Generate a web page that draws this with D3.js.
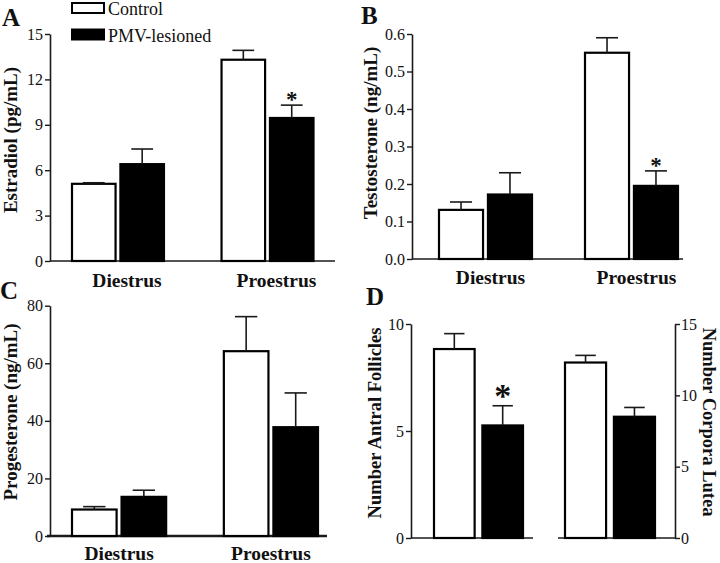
<!DOCTYPE html>
<html><head><meta charset="utf-8">
<script src="https://cdn.jsdelivr.net/npm/d3@7"></script>
<style>
body{margin:0;background:#fff}
svg{display:block}
text{font-family:"Liberation Serif","Times New Roman",serif;fill:#111}
</style>
</head><body>
<svg id="chart" width="720" height="563" font-family="Liberation Serif, serif"></svg>
<script>
// ---------- data ----------
const categories = ["Diestrus", "Proestrus"];
const groups = ["Control", "PMV-lesioned"];

const estradiolControl = [5.1, 13.3];
const estradiolControlErr = [0.07, 0.62];
const estradiolPMV = [6.4, 9.45];
const estradiolPMVErr = [1.0, 0.85];
const estradiolTicks = [0, 3, 6, 9, 12, 15];

const testosteroneControl = [0.131, 0.55];
const testosteroneControlErr = [0.021, 0.04];
const testosteronePMV = [0.172, 0.195];
const testosteronePMVErr = [0.058, 0.04];
const testosteroneTicks = [0.0, 0.1, 0.2, 0.3, 0.4, 0.5, 0.6];

const progesteroneControl = [9.2, 64.2];
const progesteroneControlErr = [1.0, 12.0];
const progesteronePMV = [13.6, 37.8];
const progesteronePMVErr = [2.3, 11.9];
const progesteroneTicks = [0, 20, 40, 60, 80];

const follicles = [8.83, 5.26];        // Control, PMV-lesioned
const folliclesErr = [0.72, 0.92];
const follicleTicks = [0, 5, 10];
const corporaLutea = [12.3, 8.5];      // Control, PMV-lesioned
const corporaLuteaErr = [0.5, 0.65];
const lutealTicks = [0, 5, 10, 15];

const fills = ["#ffffff", "#000000"];

// ---------- drawing ----------
const svg = d3.select("#chart");
const INK = "#1a1a1a";
const SERIF = '"Liberation Serif","Times New Roman",serif';

function styleAxis(a) {
  a.select(".domain").attr("stroke", INK).attr("stroke-width", 1.6);
  a.selectAll(".tick line").attr("stroke", INK).attr("stroke-width", 1.4);
  a.selectAll(".tick text").style("font-family", SERIF).style("font-size", "16px").attr("fill", "#111");
}
function yAxisLeft(g, x, y, ticks, fmt) {
  const ax = d3.axisLeft(y).tickValues(ticks).tickFormat(fmt).tickSize(5).tickSizeOuter(0).tickPadding(2);
  const a = g.append("g").attr("transform", `translate(${x},0)`).call(ax);
  styleAxis(a);
  return a;
}
function yAxisRight(g, x, y, ticks, fmt) {
  const ax = d3.axisRight(y).tickValues(ticks).tickFormat(fmt).tickSize(5).tickSizeOuter(0).tickPadding(1);
  const a = g.append("g").attr("transform", `translate(${x},0)`).call(ax);
  styleAxis(a);
  return a;
}

function drawBar(g, x, w, y, val, err, fill) {
  const y0 = y.range()[0];
  g.append("rect").attr("x", x).attr("y", y(val)).attr("width", w).attr("height", y0 - y(val))
    .attr("fill", fill).attr("stroke", "#000").attr("stroke-width", 2.2);
  const cx = x + w / 2, cw = w * 0.25;
  g.append("line").attr("x1", cx).attr("x2", cx).attr("y1", y(val)).attr("y2", y(val + err))
    .attr("stroke", INK).attr("stroke-width", 1.6);
  g.append("line").attr("x1", cx - cw).attr("x2", cx + cw).attr("y1", y(val + err)).attr("y2", y(val + err))
    .attr("stroke", INK).attr("stroke-width", 1.6);
  return {cx, top: y(val + err)};
}

function groupedPanel(o) {
  const g = svg.append("g");
  const y = d3.scaleLinear().domain([o.ticks[0], o.ticks[o.ticks.length - 1]]).range([o.y0, o.yTop]);
  const xg = d3.scaleBand().domain(categories).range(o.barRange).paddingInner(o.padInner).paddingOuter(0);
  const xs = d3.scaleBand().domain(groups).range([0, xg.bandwidth()]).paddingInner(0.1).paddingOuter(0);
  g.append("line").attr("x1", o.baseStart).attr("x2", o.baseEnd).attr("y1", o.y0).attr("y2", o.y0)
    .attr("stroke", INK).attr("stroke-width", o.baseWidth || 1.6);
  const tops = {};
  categories.forEach((c, i) => {
    groups.forEach((s, j) => {
      tops[c + "|" + s] = drawBar(g, xg(c) + xs(s), xs.bandwidth(), y, o.series[j].vals[i], o.series[j].errs[i], fills[j]);
    });
    g.append("text").attr("x", xg(c) + xg.bandwidth() / 2 + o.labelDx).attr("y", o.labelY)
      .attr("text-anchor", "middle").style("font-size", "19.5px").style("font-weight", "bold").text(c);
  });
  yAxisLeft(g, o.axisX, y, o.ticks, o.fmt);
  g.append("text").attr("transform", `translate(${o.titleX},${o.titleY}) rotate(-90)`)
    .attr("text-anchor", "middle").style("font-size", "19px").style("font-weight", "bold").text(o.title);
  (o.stars || []).forEach(st => {
    const t = tops[st.cat + "|" + st.group];
    g.append("text").attr("x", t.cx).attr("y", t.top - st.dy).attr("text-anchor", "middle")
      .style("font-size", st.size + "px").style("font-weight", "bold").text("*");
  });
  return g;
}

// Panel A
groupedPanel({
  axisX: 50, y0: 261, yTop: 34, ticks: estradiolTicks, fmt: d3.format("d"),
  barRange: [72, 313.5], padInner: 0.385, baseStart: 50, baseEnd: 335,
  series: [{vals: estradiolControl, errs: estradiolControlErr}, {vals: estradiolPMV, errs: estradiolPMVErr}],
  labelDx: 9, labelY: 287, title: "Estradiol (pg/mL)", titleX: 17, titleY: 140,
  stars: [{cat: "Proestrus", group: "PMV-lesioned", size: 23, dy: -2}]
});
// Panel B
groupedPanel({
  axisX: 412, y0: 259, yTop: 34, ticks: testosteroneTicks, fmt: d3.format(".1f"),
  barRange: [439, 678], padInner: 0.363, baseStart: 412, baseEnd: 683,
  series: [{vals: testosteroneControl, errs: testosteroneControlErr}, {vals: testosteronePMV, errs: testosteronePMVErr}],
  labelDx: 5, labelY: 284, title: "Testosterone (ng/mL)", titleX: 377, titleY: 133,
  stars: [{cat: "Proestrus", group: "PMV-lesioned", size: 23, dy: -2}]
});
// Panel C
groupedPanel({
  axisX: 50, y0: 536, yTop: 305.7, ticks: progesteroneTicks, fmt: d3.format("d"),
  barRange: [72, 318], padInner: 0.38, baseStart: 47, baseEnd: 327, baseWidth: 2.6,
  series: [{vals: progesteroneControl, errs: progesteroneControlErr}, {vals: progesteronePMV, errs: progesteronePMVErr}],
  labelDx: 0, labelY: 560, title: "Progesterone (ng/mL)", titleX: 17, titleY: 412
});

// Panel D
(function () {
  const g = svg.append("g");
  const yl = d3.scaleLinear().domain([0, 10]).range([538, 324]);
  const yr = d3.scaleLinear().domain([0, 15]).range([538, 324]);
  const xl = d3.scaleBand().domain(groups).range([434, 523]).paddingInner(0.16);
  const xr = d3.scaleBand().domain(groups).range([565, 655]).paddingInner(0.16);
  g.append("line").attr("x1", 411).attr("x2", 533).attr("y1", 538).attr("y2", 538).attr("stroke", INK).attr("stroke-width", 1.6);
  g.append("line").attr("x1", 558).attr("x2", 675).attr("y1", 538).attr("y2", 538).attr("stroke", INK).attr("stroke-width", 1.6);
  let starTop;
  groups.forEach((s, j) => {
    const r = drawBar(g, xl(s), xl.bandwidth(), yl, follicles[j], folliclesErr[j], fills[j]);
    if (j === 1) starTop = r;
    drawBar(g, xr(s), xr.bandwidth(), yr, corporaLutea[j], corporaLuteaErr[j], fills[j]);
  });
  yAxisLeft(g, 411, yl, follicleTicks, d3.format("d"));
  yAxisRight(g, 675, yr, lutealTicks, d3.format("d"));
  g.append("text").attr("x", starTop.cx).attr("y", starTop.top + 1).attr("text-anchor", "middle")
    .style("font-size", "34px").style("font-weight", "bold").text("*");
  g.append("text").attr("transform", "translate(381,423) rotate(-90)").attr("text-anchor", "middle")
    .style("font-size", "18.5px").style("font-weight", "bold").text("Number Antral Follicles");
  g.append("text").attr("transform", "translate(703,422) rotate(90)").attr("text-anchor", "middle")
    .style("font-size", "18.5px").style("font-weight", "bold").text("Number Corpora Lutea");
})();

// Panel letters
const panelLetters = [["A", 2, 26], ["B", 361, 24], ["C", 0, 299], ["D", 366, 305]];
panelLetters.forEach(([t, x, y]) => svg.append("text").attr("x", x).attr("y", y)
  .style("font-size", "25px").style("font-weight", "bold").text(t));

// Legend
const leg = svg.append("g");
groups.forEach((s, j) => {
  leg.append("rect").attr("x", 72).attr("y", 3 + j * 26.5).attr("width", 32).attr("height", 10)
    .attr("fill", fills[j]).attr("stroke", "#000").attr("stroke-width", 2);
  leg.append("text").attr("x", 108).attr("y", 15 + j * 26.5).style("font-size", "18px").text(s);
});
</script>
</body></html>
